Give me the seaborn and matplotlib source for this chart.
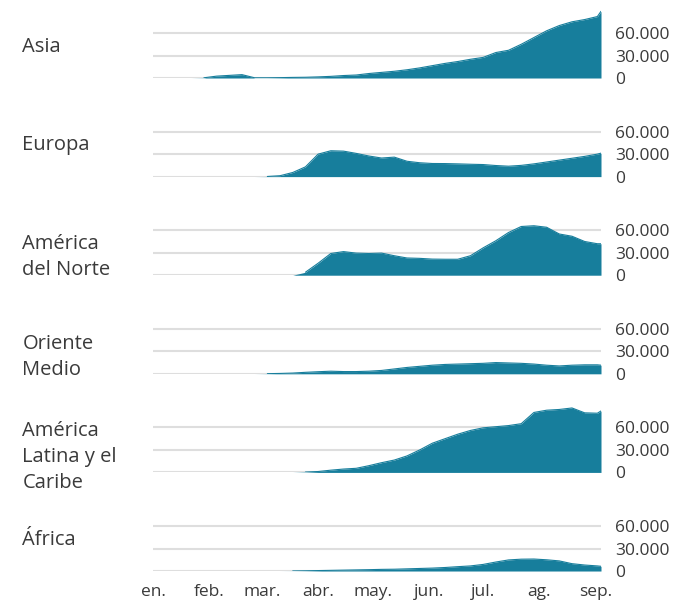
import pandas as pd
import matplotlib.pyplot as plt
import matplotlib.transforms as mtransforms
import seaborn as sns

sns.set_style("white")
plt.rcParams["font.family"] = ["Open Sans", "DejaVu Sans"]

# fechas semanales del 1 de enero al 2 de septiembre, más el último dato (4 sep.)
fechas = list(pd.date_range("2020-01-01", periods=36, freq="7D")) + [pd.Timestamp("2020-09-04")]

regiones = ["Asia", "Europa", "América\ndel Norte", "Oriente\nMedio",
            "América\nLatina y el\nCaribe", "África"]

asia = [0, 0, 0, 0, 300, 2500, 3500, 4500, 300, 300, 500, 800, 1000, 1500, 2200,
        3300, 4000, 6000, 7500, 9000, 11000, 13500, 16500, 19500, 22000, 25000,
        27500, 34000, 37000, 45000, 54000, 63000, 70000, 75000, 78000, 82000, 89000]
europa = [0, 0, 0, 0, 0, 0, 0, 0, 0, 200, 1200, 5500, 13000, 30000, 34500, 34000,
          31000, 27500, 24800, 26000, 20500, 18500, 17500, 17400, 17000, 16500,
          16100, 14800, 13900, 15000, 17000, 19500, 22000, 24500, 27000, 30000, 31300]
america_norte = [0, 0, 0, 0, 0, 0, 0, 0, 0, 0, 0, 0, 4000, 16000, 29000, 31500,
                 29500, 29000, 29500, 26000, 23000, 22500, 21500, 21300, 21300,
                 26000, 36500, 46000, 57000, 65000, 66000, 64000, 55000, 52000,
                 45000, 42000, 42000]
oriente_medio = [0, 0, 0, 0, 0, 0, 0, 0, 0, 200, 500, 1000, 2000, 2800, 3500, 3000,
                 3000, 3500, 4500, 6500, 8500, 10000, 11500, 12500, 13000, 13500,
                 14000, 15000, 14500, 14000, 13000, 11500, 10500, 11500, 12000,
                 12000, 11500]
america_latina = [0, 0, 0, 0, 0, 0, 0, 0, 0, 0, 0, 0, 500, 1200, 3000, 4500, 5500,
                  9000, 13000, 16500, 22000, 30000, 39000, 45000, 51000, 56000,
                  59500, 61000, 62500, 65000, 80000, 83000, 84000, 86000, 79500,
                  79000, 82000]
africa = [0, 0, 0, 0, 0, 0, 0, 0, 0, 0, 0, 100, 300, 600, 900, 1200, 1500, 1800,
          2200, 2400, 2900, 3400, 3900, 4700, 5800, 6800, 8800, 12000, 14800, 15800,
          16000, 15000, 13500, 9800, 8000, 6800, 6300]

series = [asia, europa, america_norte, oriente_medio, america_latina, africa]

meses = pd.date_range("2020-01-01", periods=9, freq="MS")
etiquetas_meses = ["en.", "feb.", "mar.", "abr.", "may.", "jun.", "jul.", "ag.", "sep."]
ticks_y = [0, 30000, 60000]
etiquetas_y = ["0", "30.000", "60.000"]

COLOR = "#177e9c"
GRIS_TEXTO = "#3a3a3a"

fig, axes = plt.subplots(6, 1, sharex=True, figsize=(6.96, 6.04), dpi=100)
fig.subplots_adjust(left=0.22, right=0.8635, bottom=0.0546, top=0.985, hspace=0.43)

# posición vertical de cada nombre (fracción del eje)
pos_nombre = [0.45, 0.46, 0.26, 0.24, 0.23, 0.45]

for ax, nombre, valores, yn in zip(axes, regiones, series, pos_nombre):
    df = pd.DataFrame({"fecha": fechas, "casos": valores})
    # contorno solo donde hay casos, para no pintar la línea del cero
    sns.lineplot(data=df[df["casos"] > 0], x="fecha", y="casos", ax=ax,
                 color=COLOR, linewidth=0.8)
    ax.fill_between(df["fecha"], df["casos"], color=COLOR, linewidth=0)

    ax.set_ylim(0, 92000)
    ax.set_xlim(pd.Timestamp("2020-01-01"), pd.Timestamp("2020-09-04"))
    ax.set_yticks(ticks_y)
    ax.set_yticklabels(etiquetas_y)
    ax.yaxis.tick_right()
    ax.tick_params(axis="y", length=0, pad=10, labelsize=12.5, labelcolor=GRIS_TEXTO)
    ax.tick_params(axis="x", length=0)
    ax.grid(axis="y", color="#dedede", linewidth=1.5)
    ax.grid(axis="x", visible=False)
    ax.set_axisbelow(True)
    for s in ax.spines.values():
        s.set_visible(False)
    ax.set_xlabel("")
    ax.set_ylabel("")

    trans = mtransforms.blended_transform_factory(fig.transFigure, ax.transAxes)
    ax.text(0.032, yn, nombre, transform=trans, ha="left", va="center",
            fontsize=14.5, color=GRIS_TEXTO, linespacing=1.4)

axes[-1].set_xticks(meses)
axes[-1].set_xticklabels(etiquetas_meses)
axes[-1].tick_params(axis="x", length=0, pad=9, labelsize=12.5, labelcolor=GRIS_TEXTO)

plt.savefig("out.png", dpi=100)
